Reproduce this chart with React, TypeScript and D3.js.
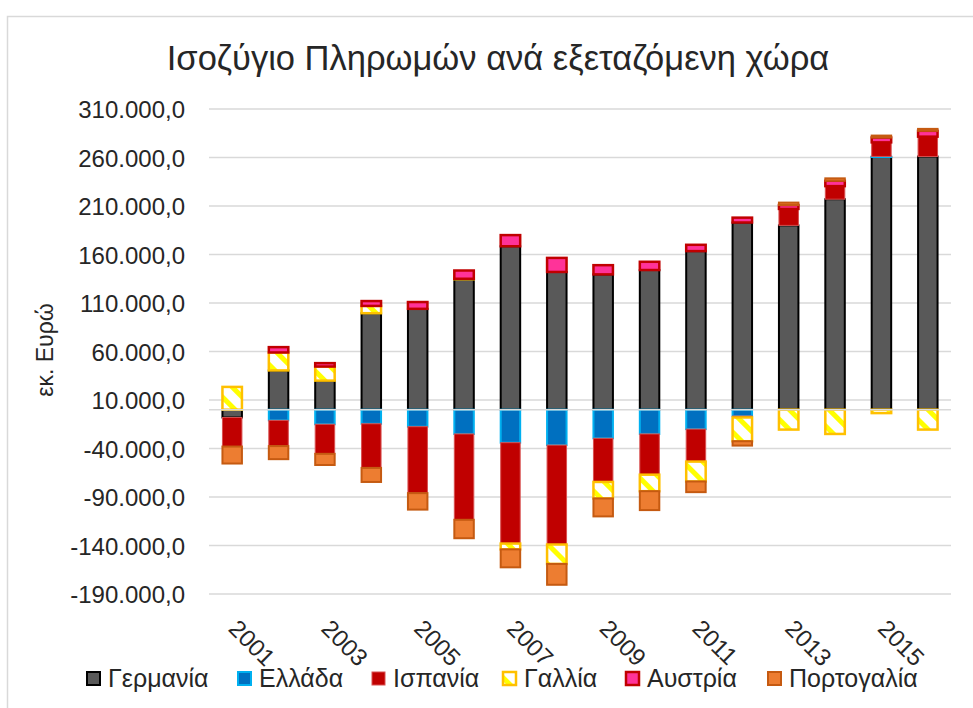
import React from "react";
import * as d3 from "d3";

// ---------- DATA (εκ. Ευρώ) ----------
const years = ["2001","2002","2003","2004","2005","2006","2007","2008","2009","2010","2011","2012","2013","2014","2015","2016"];
const xLabelYears = ["2001","2003","2005","2007","2009","2011","2013","2015"];
const seriesNames = ["Γερμανία","Ελλάδα","Ισπανία","Γαλλία","Αυστρία","Πορτογαλία"];

const germany  = [-8000, 40500, 30000, 99500, 104000, 134500, 168500, 142000, 139500, 144000, 163500, 193000, 190000, 217000, 260500, 261000];
const greece   = [0, -11000, -15000, -14500, -17500, -25000, -34000, -36500, -29500, -25000, -20000, -6500, 0, 0, 600, 0];
const spain    = [-30000, -26500, -30500, -45500, -68500, -88500, -104000, -102500, -45000, -42000, -33500, -1500, 17000, 13500, 14500, 20500];
const france   = [23500, 18500, 14500, 7500, 0, 500, -6000, -20000, -17000, -17000, -20500, -24500, -20500, -25000, -3500, -20500];
const austria  = [0, 5500, 3500, 5000, 7000, 8500, 11500, 14500, 9500, 8500, 6500, 5000, 4000, 5500, 5000, 6000];
const portugal = [-17500, -13500, -11500, -14500, -17000, -19000, -18500, -21500, -18500, -19500, -11000, -4500, 2500, 2500, 2000, 2000];

const yTicks = [-190000, -140000, -90000, -40000, 10000, 60000, 110000, 160000, 210000, 260000, 310000];

const title = "Ισοζύγιο Πληρωμών ανά εξεταζόμενη χώρα";
const yTitle = "εκ. Ευρώ";

// ---------- STYLE ----------
const W = 973, H = 708;
const plot = { left: 209, right: 951, top: 109, bottom: 594 };
const FONT = "'Liberation Sans', Arial, sans-serif";
const TEXT = "#262626";
const GRID = "#D9D9D9";

const styles: Record<string, { fill: string; stroke: string; sw: number }> = {
  "Γερμανία": { fill: "#595959", stroke: "#000000", sw: 2 },
  "Ελλάδα": { fill: "#0070C0", stroke: "#00B0F0", sw: 2 },
  "Ισπανία": { fill: "#C00000", stroke: "#D85050", sw: 1 },
  "Γαλλία": { fill: "url(#frHatch)", stroke: "#FFC000", sw: 2.5 },
  "Αυστρία": { fill: "#FF3399", stroke: "#C00000", sw: 2.5 },
  "Πορτογαλία": { fill: "#ED7D31", stroke: "#C55A11", sw: 2 },
};

const legendX = [86, 237, 371, 502, 625, 767];

const locale = d3.formatLocale({ decimal: ",", thousands: ".", grouping: [3], currency: ["", "€"], minus: "-" } as any);
const fmt = locale.format(",.1f");

export default function App() {
  const seriesValues = [germany, greece, spain, france, austria, portugal];
  const rows = years.map((yr, i) => {
    const r: any = { year: yr };
    seriesNames.forEach((s, k) => (r[s] = seriesValues[k][i]));
    return r;
  });
  const layers = d3.stack<any>().keys(seriesNames).offset(d3.stackOffsetDiverging)(rows);

  const x = d3.scaleBand<string>().domain(years).range([plot.left, plot.right]).paddingInner(0.58).paddingOuter(0.29);
  const y = d3.scaleLinear().domain([-190000, 310000]).range([plot.bottom, plot.top]);
  const bw = x.bandwidth();

  return (
    <svg width={W} height={H} style={{ position: "absolute", left: 0, top: 0, background: "#fff" }} fontFamily={FONT}>
      <defs>
        <pattern id="frHatch" patternUnits="userSpaceOnUse" width={14} height={14} patternTransform="rotate(-45)">
          <rect width={14} height={14} fill="#ffffff" />
          <rect x={0} width={5} height={14} fill="#FFFF00" />
        </pattern>
      </defs>
      <rect x={0} y={0} width={W} height={H} fill="#fff" />
      <rect x={7.5} y={16.5} width={1100} height={1100} fill="none" stroke={GRID} strokeWidth={1.5} />

      <text x={498} y={70} textAnchor="middle" fontSize={34.5} fill={TEXT}>{title}</text>

      {yTicks.map((t) => (
        <g key={t}>
          <line x1={plot.left} x2={plot.right} y1={y(t)} y2={y(t)} stroke={GRID} strokeWidth={1.5} />
          <text x={185} y={y(t) + 9} textAnchor="end" fontSize={24} fill={TEXT}>{fmt(t)}</text>
        </g>
      ))}

      <text transform={`translate(53,350) rotate(-90)`} textAnchor="middle" fontSize={23} fill={TEXT}>{yTitle}</text>

      {layers.map((layer) => {
        const st = styles[layer.key];
        return (
          <g key={layer.key}>
            {layer.map((d, i) => {
              const y0 = y(d[1]);
              const y1 = y(d[0]);
              const h = Math.abs(y1 - y0);
              if (h < 0.1) return null;
              return (
                <rect key={i} x={x(years[i])!} y={Math.min(y0, y1)} width={bw} height={h}
                  fill={st.fill} stroke={st.stroke} strokeWidth={st.sw} />
              );
            })}
          </g>
        );
      })}

      <line x1={plot.left} x2={plot.right} y1={y(0)} y2={y(0)} stroke={GRID} strokeWidth={1.5} />

      {xLabelYears.map((yr) => (
        <text key={yr} transform={`translate(${x(yr)! + bw / 2 - 5},630) rotate(45)`} fontSize={24} fill={TEXT}>{yr}</text>
      ))}

      {seriesNames.map((s, i) => {
        const st = styles[s];
        return (
          <g key={s}>
            <rect x={legendX[i] + 1} y={672} width={13} height={13} fill={st.fill} stroke={st.stroke} strokeWidth={st.sw} />
            <text x={legendX[i] + 22} y={687} fontSize={25} fill={TEXT}>{s}</text>
          </g>
        );
      })}
    </svg>
  );
}
